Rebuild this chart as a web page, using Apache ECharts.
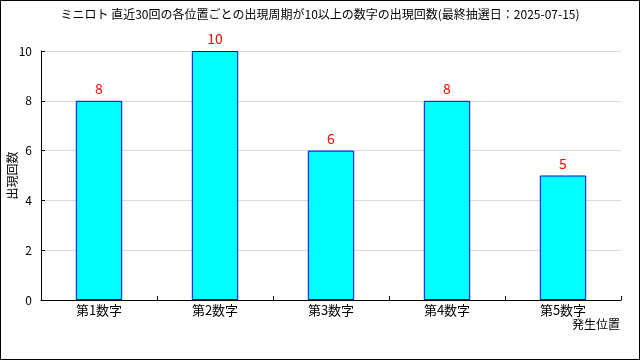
<!DOCTYPE html>
<html><head><meta charset="utf-8">
<script src="https://cdn.jsdelivr.net/npm/echarts@6/dist/echarts.min.js"></script>
<style>html,body{margin:0;padding:0;background:#fff}#c{width:640px;height:360px}</style>
</head><body><div id="c"></div>
<script>
const titleText = 'ミニロト 直近30回の各位置ごとの出現周期が10以上の数字の出現回数(最終抽選日：2025-07-15)';
const categories = ['第1数字','第2数字','第3数字','第4数字','第5数字'];
const counts = [8, 10, 6, 8, 5];
const yTicks = [0, 2, 4, 6, 8, 10];
const xName = '発生位置';
const yName = '出現回数';

const font = '"Noto Sans CJK JP", "DejaVu Sans", sans-serif';
const chart = echarts.init(document.getElementById('c'), null, {renderer:'canvas'});
chart.setOption({
  animation: false,
  backgroundColor: '#fff',
  textStyle: {fontFamily: font},
  title: {text: titleText, left: 'center', top: 3,
    textStyle: {fontSize: 12, fontWeight: 'normal', color: '#000', fontFamily: font}},
  grid: {left: 41, right: 19, top: 51, bottom: 60, containLabel: false, outerBoundsMode: 'none'},
  graphic: [{type: 'rect', shape: {x: 0.5, y: 0.5, width: 639, height: 359},
    style: {fill: 'none', stroke: '#000', lineWidth: 1}, silent: true}],
  xAxis: {
    type: 'category', data: categories,
    name: xName, nameLocation: 'end', nameGap: -1, nameMoveOverlap: false,
    nameTextStyle: {fontSize: 12, color: '#000', align: 'right', verticalAlign: 'top', padding: [18, 0, 0, 0]},
    axisLine: {lineStyle: {color: '#000'}},
    axisTick: {show: true, inside: true, length: 4, lineStyle: {color: '#000'}},
    axisLabel: {fontSize: 13, color: '#000', margin: 4}
  },
  yAxis: {
    type: 'value', min: 0, max: 10, interval: 2,
    name: yName, nameLocation: 'middle', nameGap: 23, nameRotate: 90, nameMoveOverlap: false,
    nameTextStyle: {fontSize: 12, color: '#000'},
    axisLine: {show: true, lineStyle: {color: '#000'}},
    axisTick: {show: true, inside: true, length: 4, lineStyle: {color: '#000'}},
    axisLabel: {fontSize: 12, color: '#000', margin: 9,
      formatter: v => yTicks.includes(v) ? String(v) : ''},
    splitLine: {show: true, lineStyle: {color: '#d9d9d9'}}
  },
  series: [{
    type: 'bar', data: counts, barWidth: '40%',
    itemStyle: {color: '#00ffff', borderColor: '#0000ff', borderWidth: 1},
    label: {show: true, position: 'top', color: '#ff0000', fontSize: 14, distance: 5}
  }]
});
</script></body></html>
